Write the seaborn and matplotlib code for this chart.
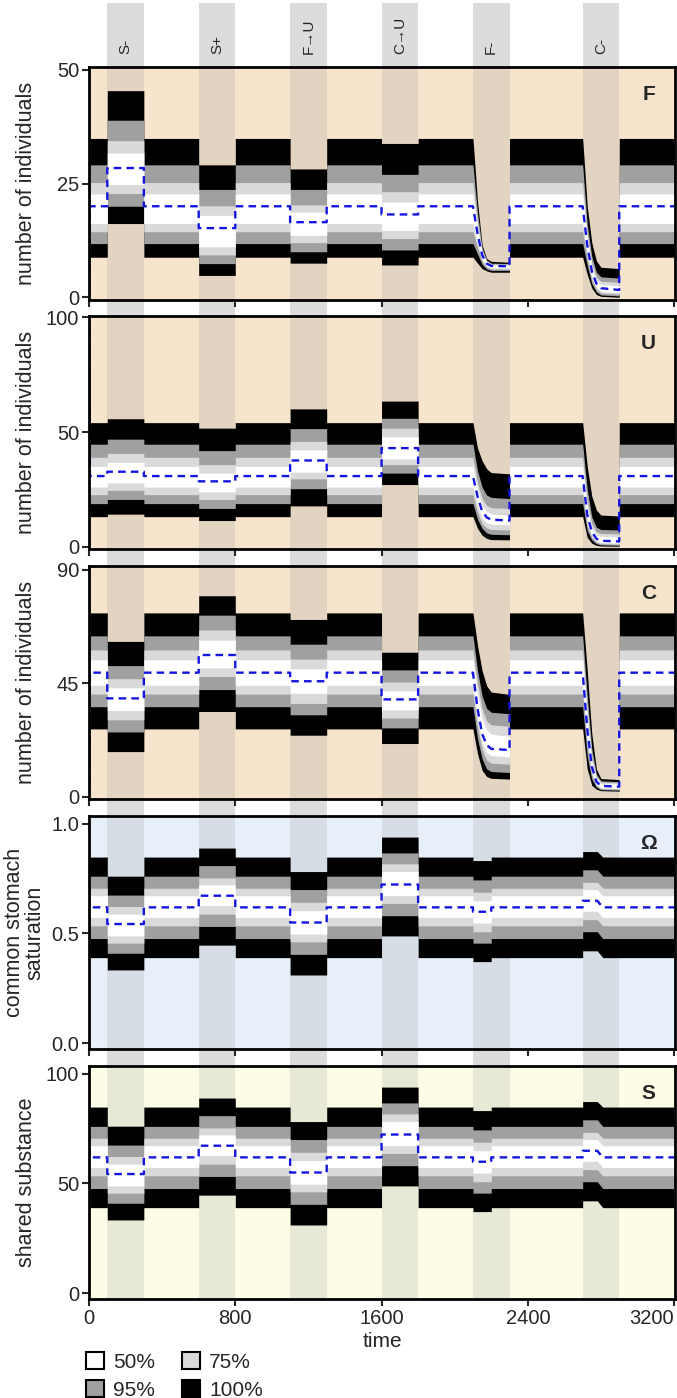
import matplotlib
matplotlib.use("Agg")
import pandas as pd
import seaborn as sns
import matplotlib.pyplot as plt
from matplotlib.patches import Patch, Rectangle
from matplotlib.transforms import blended_transform_factory

# perturbation windows
phase_labels = ["S-", "S+", "F\u2192U", "C\u2192U", "F-", "C-"]
phase_start = [100, 600, 1100, 1600, 2100, 2700]
phase_end = [300, 800, 1300, 1800, 2300, 2900]
t_end = 3200

# columns: max, 97.5%, 87.5%, 75%, median, 25%, 12.5%, 2.5%, min
cols = ["max", "hi95", "hi75", "hi50", "med", "lo50", "lo75", "lo95", "min"]

# ---- F : number of individuals ----
F_init = 0
F_base = [34.9, 29.1, 25.2, 22.7, 20.0, 16.2, 14.4, 11.8, 8.8]
F_phases = [
    [45.4, 38.9, 34.4, 31.7, 28.4, 24.8, 22.8, 20.0, 16.2],
    [29.1, 23.7, 20.1, 18.0, 15.2, 11.1, 9.3, 7.4, 4.8],
    [28.2, 23.7, 20.3, 18.7, 16.5, 13.6, 12.0, 10.0, 7.5],
    [33.8, 27.0, 23.2, 20.9, 18.2, 14.7, 12.9, 10.4, 7.1],
    [(2125, [21, 18.5, 16.5, 15.2, 14, 12, 11, 9.5, 7.5]),
     (2150, [11.5, 10.8, 10.2, 9.8, 9.3, 8.3, 7.9, 7.2, 6.3]),
     (2175, [8.5, 8.2, 7.9, 7.7, 7.4, 6.9, 6.6, 6.2, 5.8]),
     (2200, [7.9, 7.5, 7.3, 7.1, 6.9, 6.5, 6.2, 5.9, 5.5]),
     (2300, [7.7, 7.4, 7.2, 7.0, 6.8, 6.4, 6.2, 5.9, 5.5])],
    [(2725, [20, 16, 14, 13, 11.5, 9.5, 8.5, 7, 5]),
     (2750, [12, 9, 7.5, 6.8, 5.8, 4.5, 3.8, 3.0, 2.0]),
     (2775, [8, 5.5, 4.5, 3.8, 3.0, 2.2, 1.7, 1.2, 0.6]),
     (2800, [6.6, 4.5, 3.5, 2.8, 2.0, 1.3, 0.9, 0.5, 0.2]),
     (2900, [6.3, 4.2, 3.3, 2.5, 1.6, 1.0, 0.7, 0.3, 0.0])],
]

# ---- U ----
U_init = 100
U_base = [54.1, 44.7, 39.0, 35.0, 30.8, 26.0, 22.7, 18.8, 13.1]
U_phases = [
    [55.8, 46.9, 40.7, 36.8, 32.7, 27.8, 24.6, 20.6, 14.2],
    [51.7, 41.9, 35.8, 32.1, 28.5, 23.9, 20.6, 16.7, 11.4],
    [60.1, 51.5, 45.9, 42.2, 37.6, 32.5, 29.6, 25.3, 17.8],
    [63.5, 56.0, 51.7, 47.9, 43.0, 38.3, 35.8, 32.1, 27.1],
    [(2125, [43, 33, 28, 25, 22, 18, 15, 12, 8]),
     (2150, [37.5, 26, 21, 18, 15.5, 12.5, 10, 8, 5]),
     (2175, [34, 22.5, 18, 15.5, 12.8, 10.5, 8.2, 6, 3.6]),
     (2200, [32.3, 21.5, 17, 14.2, 11.8, 9.8, 7.5, 5.4, 3.1]),
     (2300, [31.8, 21, 16.7, 13.8, 11.4, 9.5, 7.3, 5.2, 3.0])],
    [(2725, [35, 25, 20, 17, 14, 11, 9, 7, 4]),
     (2750, [22, 13, 10, 8, 6.5, 5, 4, 3, 1.5]),
     (2775, [16, 8.5, 6.5, 5, 3.5, 2.5, 2, 1.3, 0.6]),
     (2800, [13.8, 7.5, 5.8, 4.5, 2.6, 1.8, 1.3, 0.8, 0.3]),
     (2900, [13.4, 7.3, 5.6, 4.3, 2.3, 1.6, 1.1, 0.6, 0.2])],
]

# ---- C ----
C_init = 0
C_base = [72.9, 63.8, 58.2, 54.3, 49.2, 44.2, 40.7, 35.7, 26.9]
C_phases = [
    [61.6, 52.0, 46.8, 43.2, 39.0, 34.2, 30.5, 25.7, 17.9],
    [79.7, 72.0, 66.1, 62.1, 56.2, 51.1, 47.7, 42.5, 33.8],
    [70.3, 60.5, 54.6, 50.7, 45.8, 41.0, 37.0, 32.5, 24.4],
    [57.3, 50.3, 45.5, 42.0, 38.6, 34.4, 31.2, 27.3, 21.1],
    [(2125, [60, 50, 45, 41, 35, 31, 27.5, 23, 17]),
     (2150, [50, 40, 35, 31, 25, 21.5, 18.5, 15, 10.5]),
     (2175, [44, 35, 30, 26.5, 20.5, 17.5, 14.5, 11, 8]),
     (2200, [41.5, 33.5, 28.5, 24.8, 19, 16.3, 13.3, 10, 7.3]),
     (2300, [40.6, 32.9, 27.9, 24.0, 18.5, 15.8, 12.9, 9.6, 7.0])],
    [(2725, [50, 40, 35, 31, 27, 23, 20, 16, 11]),
     (2750, [25, 19, 16, 14, 12, 10, 8.5, 7, 4.5]),
     (2775, [11, 9, 8, 7, 6, 5, 4.4, 3.8, 3]),
     (2800, [7.2, 6.3, 5.8, 5.3, 4.3, 3.6, 3.2, 2.8, 2.4]),
     (2900, [6.8, 6.0, 5.5, 5.0, 4.0, 3.3, 3.0, 2.6, 2.2])],
]

# ---- Omega : common stomach saturation ----
O_init = 0.78
O_base = [0.848, 0.761, 0.706, 0.672, 0.619, 0.573, 0.535, 0.477, 0.390]
O_fminus = [0.832, 0.744, 0.688, 0.649, 0.599, 0.547, 0.508, 0.456, 0.372]
O_cminus = [0.873, 0.790, 0.733, 0.700, 0.649, 0.601, 0.563, 0.508, 0.421]
O_phases = [
    [0.761, 0.675, 0.623, 0.588, 0.543, 0.489, 0.456, 0.410, 0.334],
    [0.889, 0.809, 0.753, 0.721, 0.672, 0.627, 0.588, 0.532, 0.447],
    [0.782, 0.700, 0.642, 0.604, 0.550, 0.497, 0.462, 0.405, 0.311],
    [0.939, 0.867, 0.817, 0.782, 0.723, 0.672, 0.637, 0.581, 0.489],
    [(2100, O_fminus), (2200, O_fminus), (2200, O_base)],
    [(2700, O_cminus), (2780, O_cminus), (2810, O_base)],
]

# ---- S : shared substance ----
S_init = 78
S_base = [84.8, 76.0, 70.6, 67.2, 61.9, 57.3, 53.5, 47.7, 39.0]
S_fminus = [83.2, 74.4, 68.8, 64.9, 59.9, 54.7, 50.8, 45.6, 37.2]
S_cminus = [87.3, 79.0, 73.3, 70.0, 64.9, 60.1, 56.3, 50.8, 42.1]
S_phases = [
    [76.1, 67.5, 62.3, 58.8, 54.3, 48.9, 45.6, 41.0, 33.4],
    [88.9, 80.9, 75.3, 72.1, 67.2, 62.7, 58.8, 53.2, 44.7],
    [78.2, 70.0, 64.2, 60.4, 55.0, 49.7, 46.2, 40.5, 31.1],
    [93.9, 86.7, 81.7, 78.2, 72.3, 67.2, 63.7, 58.1, 48.9],
    [(2100, S_fminus), (2200, S_fminus), (2200, S_base)],
    [(2700, S_cminus), (2780, S_cminus), (2810, S_base)],
]


def build_frame(init, base, phases):
    rows = [(0, [init] * len(cols)), (5, base)]
    for start, end, pts in zip(phase_start, phase_end, phases):
        rows.append((start, base))
        if isinstance(pts[0], (int, float)):
            rows += [(start, pts), (end, pts)]
        else:
            rows += pts
        rows.append((end, base))
    rows.append((t_end, base))
    return pd.DataFrame([[t] + list(v) for t, v in rows], columns=["time"] + cols)


panels = [
    ("F", build_frame(F_init, F_base, F_phases), "number of individuals", (-0.6, 50.6), [0, 25, 50], "#F6E4CC"),
    ("U", build_frame(U_init, U_base, U_phases), "number of individuals", (-1.0, 100.6), [0, 50, 100], "#F6E4CC"),
    ("C", build_frame(C_init, C_base, C_phases), "number of individuals", (-0.9, 91.5), [0, 45, 90], "#F6E4CC"),
    ("\u03A9", build_frame(O_init, O_base, O_phases), "common stomach\nsaturation", (-0.026, 1.035), [0.0, 0.5, 1.0], "#E7F0F9"),
    ("S", build_frame(S_init, S_base, S_phases), "shared substance", (-2.6, 103.5), [0, 50, 100], "#FDFDE7"),
]

band_colors = {"100%": "black", "95%": "#A0A0A0", "75%": "#DADADA", "50%": "white"}
band_cols = [("100%", "max", "min"), ("95%", "hi95", "lo95"),
             ("75%", "hi75", "lo75"), ("50%", "hi50", "lo50")]

sns.set_style("ticks")
plt.rcParams["font.family"] = ["Liberation Sans", "DejaVu Sans"]

W, H = 677, 1398
fig = plt.figure(figsize=(W / 100, H / 100), dpi=100)

left = 89 / W
width = 586 / W
tops = [67, 316, 566, 816, 1066]
ph = 233

axes = []
for i, (name, df, ylab, ylim, yticks, bg) in enumerate(panels):
    ax = fig.add_axes([left, 1 - (tops[i] + ph) / H, width, ph / H])
    ax.set_facecolor(bg)
    ax.set_xlim(0, 3205)
    ax.set_ylim(*ylim)

    for s, e in zip(phase_start, phase_end):
        ax.axvspan(s, e, color="#8c8c8c", alpha=0.18, lw=0, zorder=0.5)

    for z, (lab, hi, lo) in enumerate(band_cols):
        ax.fill_between(df["time"], df[lo], df[hi], color=band_colors[lab],
                        lw=0, zorder=1 + z)

    sns.lineplot(data=df, x="time", y="med", ax=ax, sort=False, estimator=None,
                 color="#1414E0", lw=1.7, linestyle=(0, (3.2, 2.2)), zorder=6)

    ax.set_yticks(yticks)
    if name == "\u03A9":
        ax.set_yticklabels(["0.0", "0.5", "1.0"])
    ax.set_xticks([0, 800, 1600, 2400, 3200])
    ax.tick_params(axis="both", direction="out", length=5, width=1.5,
                   labelsize=14.5, pad=2)
    for sp in ax.spines.values():
        sp.set_visible(True)
        sp.set_linewidth(2)
        sp.set_color("black")
        sp.set_zorder(10)

    ax.set_ylabel(ylab, fontsize=15.5, linespacing=0.95)
    ax.yaxis.set_label_coords(-0.088 if "\n" not in ylab else -0.075, 0.5)
    if i < 4:
        ax.set_xlabel("")
        ax.tick_params(axis="x", labelbottom=False)
    else:
        ax.set_xlabel("time", fontsize=15, labelpad=3)
        ax.get_xticklabels()[-1].set_horizontalalignment("right")

    ax.text(0.955, 0.88, name, transform=ax.transAxes, ha="center", va="center",
            fontsize=15, fontweight="bold", zorder=11)
    axes.append(ax)

# grey perturbation columns across the whole figure + labels on top
tr = blended_transform_factory(axes[0].transData, fig.transFigure)
y_bot = 1 - (tops[-1] + ph) / H
y_top = 1 - 3 / H
for s, e, lab in zip(phase_start, phase_end, phase_labels):
    fig.add_artist(Rectangle((s, y_bot), e - s, y_top - y_bot, transform=tr,
                             facecolor="#DCDCDC", edgecolor="none", zorder=-1))
    fig.text((s + e) / 2, 1 - 54 / H, lab, transform=tr, rotation=90,
             ha="center", va="bottom", fontsize=11)

# legend
handles = [Patch(facecolor=band_colors[k], edgecolor="black", lw=1.5)
           for k in ["50%", "95%", "75%", "100%"]]
fig.legend(handles, ["50%", "95%", "75%", "100%"], ncol=2, frameon=False,
           loc="upper left", bbox_to_anchor=(86 / W, 1 - 1352 / H),
           borderpad=0, borderaxespad=0, handlelength=0.85, handleheight=0.9,
           handletextpad=0.45, columnspacing=1.3, labelspacing=0.4,
           prop={"size": 15})

fig.savefig("out.png", dpi=100)
